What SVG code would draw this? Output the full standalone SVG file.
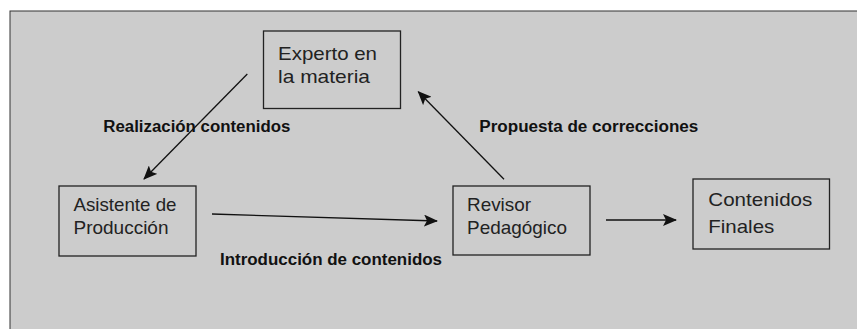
<svg xmlns="http://www.w3.org/2000/svg" width="857" height="329" viewBox="0 0 857 329">
<style>
.node rect{fill:none;stroke:#222;stroke-width:1.3}
.node text{font-family:"Liberation Sans",Arial,sans-serif;font-size:19px;fill:#222}
.lbl{font-family:"Liberation Sans",Arial,sans-serif;font-size:16px;font-weight:bold;fill:#111}
.conn line{stroke:#111;stroke-width:1.3;marker-end:url(#ah)}
</style>
<defs>
<marker id="ah" markerUnits="userSpaceOnUse" markerWidth="14" markerHeight="12" viewBox="0 0 14 12" refX="13" refY="6" orient="auto">
<path d="M0,0 L14,6 L0,12 L3,6 Z" fill="#111"/>
</marker>
</defs>
<rect x="0" y="0" width="857" height="329" fill="#fff"/>
<rect x="10" y="11" width="860" height="330" fill="#cccccc" stroke="#333" stroke-width="1"/>
<g id="experto" class="node">
<rect x="263.5" y="31" width="137" height="77.5"/>
<text x="278" y="60" textLength="99" lengthAdjust="spacingAndGlyphs">Experto en</text>
<text x="278" y="82.5" textLength="92" lengthAdjust="spacingAndGlyphs">la materia</text>
</g>
<g id="asistente" class="node">
<rect x="59" y="186" width="137" height="70"/>
<text x="73.5" y="210.7" textLength="103" lengthAdjust="spacingAndGlyphs">Asistente de</text>
<text x="73.5" y="234" textLength="95" lengthAdjust="spacingAndGlyphs">Producción</text>
</g>
<g id="revisor" class="node">
<rect x="453" y="186" width="137" height="69"/>
<text x="467" y="211" textLength="64" lengthAdjust="spacingAndGlyphs">Revisor</text>
<text x="467" y="234" textLength="100" lengthAdjust="spacingAndGlyphs">Pedagógico</text>
</g>
<g id="contenidos" class="node">
<rect x="693" y="179" width="136.5" height="70"/>
<text x="708.3" y="206" textLength="104" lengthAdjust="spacingAndGlyphs">Contenidos</text>
<text x="708.3" y="232.5" textLength="66" lengthAdjust="spacingAndGlyphs">Finales</text>
</g>
<g id="connectors" class="conn">
<line x1="247.3" y1="74" x2="144" y2="179"/>
<line x1="212" y1="214" x2="437" y2="221"/>
<line x1="504" y1="179.3" x2="418.3" y2="91.7"/>
<line x1="606" y1="220" x2="676" y2="220"/>
</g>
<g id="labels">
<text class="lbl" x="103.3" y="131.7" textLength="187" lengthAdjust="spacingAndGlyphs">Realización contenidos</text>
<text class="lbl" x="479.3" y="131.7" textLength="219" lengthAdjust="spacingAndGlyphs">Propuesta de correcciones</text>
<text class="lbl" x="220" y="265" textLength="222" lengthAdjust="spacingAndGlyphs">Introducción de contenidos</text>
</g>
</svg>
